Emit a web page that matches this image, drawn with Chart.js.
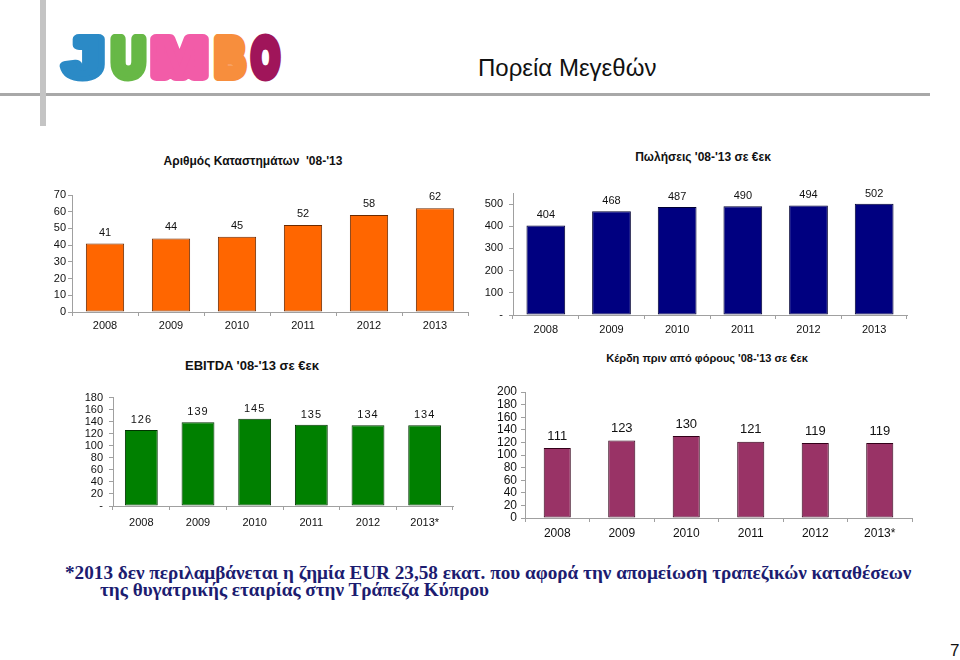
<!DOCTYPE html>
<html><head><meta charset="utf-8">
<script src="https://cdn.jsdelivr.net/npm/chart.js@4.4.1/dist/chart.umd.min.js"></script>
<style>
body{margin:0;width:960px;height:660px;background:#fff;position:relative;overflow:hidden;font-family:"Liberation Sans",Arial,sans-serif}
.abs{position:absolute;white-space:nowrap}
canvas{position:absolute}
.ctitle{position:absolute;font-weight:bold;color:#111;white-space:nowrap;transform:translate(-50%,-50%)}
#logo text{font-family:"Liberation Sans",sans-serif;font-weight:bold;font-size:53px;stroke-width:10px;stroke-linejoin:round;paint-order:stroke fill}
</style></head><body>
<div class="abs" style="left:0;top:93px;width:930px;height:3px;background:#a8a8a8"></div>
<div class="abs" style="left:40px;top:0;width:6px;height:126px;background:#c4c4c4"></div>
<svg id="logo" class="abs" style="left:0;top:0" width="320" height="100">
<text x="65" y="75.5" textLength="38" lengthAdjust="spacingAndGlyphs" fill="#2b8ac6" stroke="#2b8ac6">J</text>
<text x="112" y="75.5" textLength="33" lengthAdjust="spacingAndGlyphs" fill="#67b846" stroke="#67b846">U</text>
<text x="152" y="75.5" textLength="55" lengthAdjust="spacingAndGlyphs" fill="#f25ca8" stroke="#f25ca8">M</text>
<text x="215" y="75.5" textLength="30" lengthAdjust="spacingAndGlyphs" fill="#f78e3d" stroke="#f78e3d">B</text>
<text x="252" y="75.5" textLength="27" lengthAdjust="spacingAndGlyphs" fill="#a0155a" stroke="#a0155a">O</text>
</svg>
<div class="abs" style="left:478px;top:54px;font-size:24px;color:#111">Πορεία Μεγεθών</div>

<div class="ctitle" style="left:253px;top:161px;font-size:12px">Αριθμός Καταστημάτων &nbsp;'08-'13</div>
<div class="ctitle" style="left:703px;top:157px;font-size:12px">Πωλήσεις '08-'13 σε €εκ</div>
<div class="ctitle" style="left:252px;top:365px;font-size:13px">EBITDA '08-'13 σε €εκ</div>
<div class="ctitle" style="left:707px;top:358px;font-size:11px">Κέρδη πριν από φόρους '08-'13 σε €εκ</div>

<canvas id="c1" width="440" height="165" style="left:40px;top:180px;width:440px;height:165px"></canvas>
<canvas id="c2" width="450" height="165" style="left:470px;top:180px;width:450px;height:165px"></canvas>
<canvas id="c3" width="410" height="160" style="left:55px;top:385px;width:410px;height:160px"></canvas>
<canvas id="c4" width="460" height="170" style="left:465px;top:380px;width:460px;height:170px"></canvas>

<div class="abs" style="left:65px;top:564px;font-family:'Liberation Serif',serif;font-weight:bold;font-size:19.2px;line-height:17px;color:#1c1c70">*2013 δεν περιλαμβάνεται η ζημία EUR 23,58 εκατ. που αφορά την απομείωση τραπεζικών καταθέσεων<br><span style="padding-left:35px">της θυγατρικής εταιρίας στην Τράπεζα Κύπρου</span></div>
<div class="abs" style="left:950px;top:641px;font-size:17px;color:#111">7</div>

<script>
const years = ['2008','2009','2010','2011','2012','2013'];
const yearsStar = ['2008','2009','2010','2011','2012','2013*'];
const stores = [41,44,45,52,58,62];
const sales = [404,468,487,490,494,502];
const ebitda = [126,139,145,135,134,134];
const ebt = [111,123,130,121,119,119];
const storesTicks = [0,10,20,30,40,50,60,70];
const salesTicks = [0,100,200,300,400,500];
const ebitdaTicks = [0,20,40,60,80,100,120,140,160,180];
const ebtTicks = [0,20,40,60,80,100,120,140,160,180,200];

const valueLabels = {
  id:'valueLabels',
  afterDatasetsDraw(chart, args, opts){
    const ctx = chart.ctx;
    const meta = chart.getDatasetMeta(0);
    const data = chart.data.datasets[0].data;
    ctx.save();
    ctx.font = opts.font;
    ctx.fillStyle = '#111';
    ctx.textAlign = 'center';
    ctx.textBaseline = 'middle';
    if (opts.spacing) ctx.letterSpacing = opts.spacing;
    meta.data.forEach((bar, i) => {
      ctx.fillText(String(data[i]), bar.x, bar.y - opts.offset);
    });
    ctx.restore();
  }
};

function makeChart(id, o){
  const axisColor = '#a0a0a0';
  return new Chart(document.getElementById(id), {
    type:'bar',
    data:{labels:o.labels, datasets:[{data:o.data, backgroundColor:o.color, borderColor:o.border, borderWidth:1, borderSkipped:false, barPercentage:o.barPct, categoryPercentage:1}]},
    plugins:[valueLabels],
    options:{
      responsive:false, animation:false, devicePixelRatio:1,
      layout:{padding:{top:o.padTop, right:o.padRight, left:0, bottom:0}},
      plugins:{legend:{display:false}, tooltip:{enabled:false}, title:{display:false},
        valueLabels:{font:o.valFont, offset:o.valOffset, spacing:o.valSpacing}},
      scales:{
        x:{grid:{drawOnChartArea:false, drawTicks:true, tickLength:4, color:axisColor, offset:true},
           border:{color:axisColor},
           ticks:{color:'#111', font:{family:'Liberation Sans', size:o.xFont}, padding:o.xPad, maxRotation:0, autoSkip:false},
           afterFit(s){ s.height = o.xH; }},
        y:{min:0, max:o.max,
           grid:{drawOnChartArea:false, drawTicks:true, tickLength:4, color:axisColor},
           border:{color:axisColor},
           ticks:{autoSkip:false, color:'#111', font:{family:'Liberation Sans', size:o.yFont}, padding:o.yPad,
             callback(v){ return v === 0 ? o.zero : String(v); }},
           afterBuildTicks(s){ s.ticks = o.ticks.map(v => ({value:v})); },
           afterFit(s){ s.width = o.yW; }}
      }
    }
  });
}

makeChart('c1', {labels:years, data:stores, ticks:storesTicks, color:'#ff6600', border:'#6b2a00', barPct:0.58,
  max:70, zero:'0', padTop:15, padRight:12, yW:32, xH:33, xPad:3, yPad:2,
  xFont:11, yFont:11, valFont:'11px "Liberation Sans"', valOffset:11});
makeChart('c2', {labels:years, data:sales, ticks:salesTicks, color:'#000080', border:'#000033', barPct:0.59,
  max:550, zero:'-', padTop:13, padRight:13, yW:43, xH:30, xPad:4, yPad:6,
  xFont:11, yFont:11, valFont:'11px "Liberation Sans"', valOffset:10});
makeChart('c3', {labels:yearsStar, data:ebitda, ticks:ebitdaTicks, color:'#008000', border:'#003300', barPct:0.58,
  max:180, zero:'-', padTop:12, padRight:12, yW:58, xH:39, xPad:6, yPad:6,
  xFont:11, yFont:11, valFont:'11px "Liberation Sans"', valOffset:10, valSpacing:'1px'});
makeChart('c4', {labels:yearsStar, data:ebt, ticks:ebtTicks, color:'#993366', border:'#330019', barPct:0.42,
  max:200, zero:'0', padTop:12, padRight:13, yW:60, xH:32, xPad:4, yPad:4,
  xFont:12, yFont:12, valFont:'13px "Liberation Sans"', valOffset:12});
</script>
</body></html>
